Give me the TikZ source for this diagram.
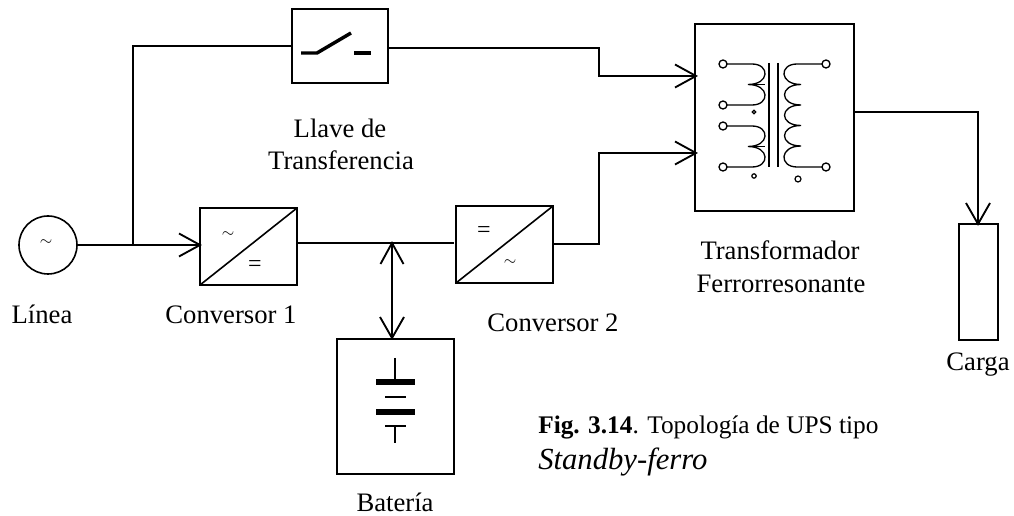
\documentclass[tikz,border=0pt]{standalone}
\usepackage{fontspec}
\setmainfont{Liberation Serif}
\usetikzlibrary{calc}
\tikzset{
  x=0.75pt,y=-0.75pt,
  wire/.style={line width=1.2pt},
  headline/.style={line width=1.4pt},
  thinwire/.style={line width=0.9pt},
  coilwire/.style={line width=1.0pt},
  lab/.style={font=\fontsize{20}{24}\selectfont,inner sep=0pt},
  tildesym/.style={font=\fontsize{13}{15}\selectfont,inner sep=0pt},
  eqsym/.style={font=\fontsize{18}{20}\selectfont,inner sep=0pt}
}
\newcommand{\headR}[1]{\draw[headline] ($(#1)+(-21,-11.5)$) -- (#1) -- ($(#1)+(-21,11.5)$);}
\newcommand{\headD}[1]{\draw[headline] ($(#1)+(-12,-21)$) -- (#1) -- ($(#1)+(12,-21)$);}
\newcommand{\headU}[1]{\draw[headline] ($(#1)+(-11.5,21)$) -- (#1) -- ($(#1)+(11.5,21)$);}
\begin{document}
\begin{tikzpicture}
\useasboundingbox (0,0) rectangle (1014,516);
% source
\node[draw,circle,line width=1.2pt,minimum size=43.5pt,inner sep=0pt] (src) at (48,245) {};
\node[tildesym] at (46,243) {\(\sim\)};
% converter 1
\draw[wire] (200,208) rectangle (297,285) (200,285) -- (297,208);
\coordinate (c1w) at (200,245); \coordinate (c1e) at (297,243);
\node[tildesym] at (228,235) {\(\sim\)};
\node[eqsym] at (255,266) {=};
% converter 2
\draw[wire] (456,206) rectangle (553,283) (456,283) -- (553,206);
\coordinate (c2w) at (456,243); \coordinate (c2e) at (553,244);
\node[eqsym] at (484,232) {=};
\node[tildesym] at (510,263) {\(\sim\)};
% switch
\draw[wire] (292,9) rectangle (388,83);
\coordinate (swW) at (292,46); \coordinate (swE) at (388,48);
\draw[line width=2.6pt] (301,53) -- (317,53) -- (351,33);
\draw[line width=2.6pt] (354,53) -- (371,53);
% transformer
\draw[wire] (695,24) rectangle (854,211);
\coordinate (trU) at (696,76); \coordinate (trL) at (696,153); \coordinate (trO) at (854,112);
\draw[coilwire] (769,63) -- (769,167) (778,63) -- (778,167);
\foreach \ya/\yb/\yc in {64/84.5/105, 126/146.5/167}{
  \draw[coilwire] (727,\ya) -- (752,\ya)
    .. controls (770,\ya) and (770,\yb) .. (748,\yb)
    .. controls (770,\yb) and (770,\yc) .. (752,\yc) -- (727,\yc);
  \draw[coilwire] (748,\yb) -- (765,\yb);
}
\draw[coilwire] (822,64) -- (797,64)
  .. controls (779,64) and (779,84.5) .. (801,84.5)
  .. controls (779,84.5) and (779,105) .. (801,105)
  .. controls (779,105) and (779,125.5) .. (801,125.5)
  .. controls (779,125.5) and (779,146) .. (801,146)
  .. controls (779,146) and (779,167) .. (797,167) -- (822,167);
\foreach \px/\py in {723/64,723/105,723/126,723/167,826/64,826/167}{
  \draw[line width=1pt] (\px,\py) circle (4);
}
\draw[line width=0.9pt] (754,112) circle (1.8);
\draw[line width=0.9pt] (754,176) circle (2.2);
\draw[line width=0.9pt] (798,179) circle (3);
% battery
\draw[wire] (337,339) rectangle (454,474);
\coordinate (batN) at (392,338);
\draw[thinwire] (395,358) -- (395,382) (385,397) -- (406,397) (385,426) -- (406,426) (395,426) -- (395,443);
\fill (376,379) rectangle (415,385);
\fill (376,409) rectangle (415,415);
% load
\draw[wire] (959,224) rectangle (998,340);
\coordinate (loadN) at (978,224);
% connectors
\coordinate (j1) at (133,245);
\coordinate (j2) at (392,243);
\draw[wire] (src.east) -- (c1w); \headR{c1w}
\draw[wire] (j1) -- (133,46) -- (swW);
\draw[wire] (swE) -- (599,48) -- (599,76) -- (trU); \headR{trU}
\draw[wire] (c2e) -- (599,244) -- (599,153) -- (trL); \headR{trL}
\draw[wire] (c1e) -- (454,243);
\draw[wire] (j2) -- (batN); \headU{j2} \headD{batN}
\draw[wire] (trO) -- (978,112) -- (loadN); \headD{loadN}
% labels
\node[lab] at (340,128) {Llave de};
\node[lab] at (341,160) {Transferencia};
\node[lab] at (42,314) {Línea};
\node[lab] at (231,315) {Conversor 1};
\node[lab] at (553,323) {Conversor 2};
\node[lab] at (395,502) {Batería};
\node[lab] at (780,250) {Transformador};
\node[lab] at (781,284) {Ferrorresonante};
\node[lab] at (978,365) {Carga};
\node[lab,anchor=west,font=\fontsize{19}{23}\selectfont] at (538,427) {\textbf{Fig. 3.14}. Topología de UPS tipo};
\node[lab,anchor=west,font=\fontsize{23}{26}\selectfont\itshape] at (538,462) {Standby-ferro};
\end{tikzpicture}
\end{document}
